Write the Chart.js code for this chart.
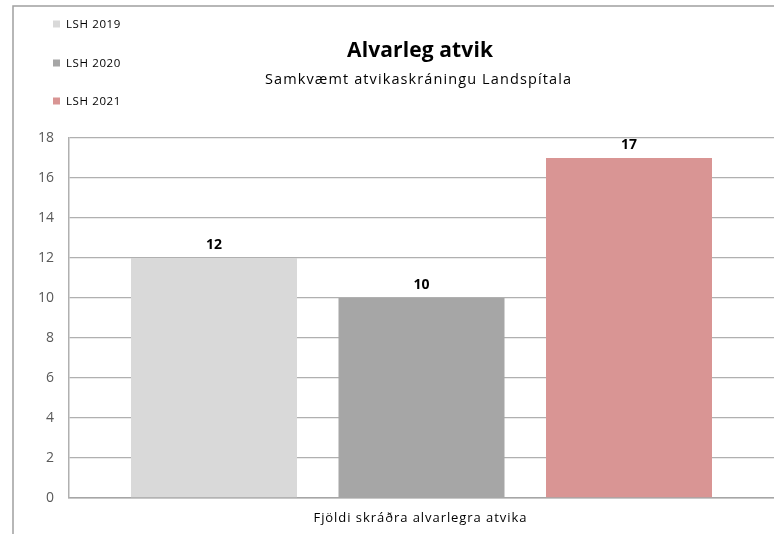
<!DOCTYPE html>
<html>
<head>
<meta charset="utf-8">
<script src="https://cdn.jsdelivr.net/npm/chart.js@4"></script>
<style>
html,body{margin:0;padding:0;background:#fff;}
#wrap{position:relative;width:774px;height:534px;}
canvas{display:block;}
</style>
</head>
<body>
<div id="wrap"><canvas id="c" width="774" height="534"></canvas></div>
<script>
const categories = ["Fjöldi skráðra alvarlegra atvika"];
const seriesLabels = ["LSH 2019", "LSH 2020", "LSH 2021"];
const seriesValues = [[12], [10], [17]];
const seriesColors = ["#d9d9d9", "#a6a6a6", "#d99594"];
const titleText = "Alvarleg atvik";
const subtitleText = "Samkvæmt atvikaskráningu Landspítala";
const yTicks = [0, 2, 4, 6, 8, 10, 12, 14, 16, 18];

const FONT = "'Open Sans', Lato, sans-serif";

function fitText(ctx, text, cx, cy, target, align) {
  ctx.letterSpacing = '0px';
  const w = ctx.measureText(text).width;
  const n = text.length;
  let sp = n > 1 ? (target - w) / n : 0;
  if (sp < -1) sp = -1;
  ctx.letterSpacing = sp + 'px';
  const tw = w + sp * n;
  ctx.textAlign = 'left';
  const x = align === 'left' ? cx : cx - tw / 2 + sp / 2;
  ctx.fillText(text, x, cy);
  ctx.letterSpacing = '0px';
}

const decor = {
  id: 'decor',
  beforeDraw(chart) {
    const ctx = chart.ctx;
    ctx.save();
    ctx.fillStyle = '#fff';
    ctx.fillRect(0, 0, chart.width, chart.height);
    ctx.strokeStyle = '#a0a0a0';
    ctx.lineWidth = 1.5;
    ctx.strokeRect(13, 6, 900, 700);
    ctx.restore();
  },
  afterDraw(chart) {
    const ctx = chart.ctx;
    ctx.save();
    ctx.fillStyle = '#000';
    ctx.textBaseline = 'middle';
    ctx.font = "bold 21px " + FONT;
    fitText(ctx, titleText, 420, 51, 146);
    ctx.font = "14.5px " + FONT;
    fitText(ctx, subtitleText, 418, 80, 307);
    ctx.font = "13px " + FONT;
    fitText(ctx, categories[0], 420, 518, 214);
    // legend
    const ys = [24, 63, 101];
    ctx.font = "11.5px " + FONT;
    chart.data.datasets.forEach((ds, i) => {
      ctx.fillStyle = ds.backgroundColor;
      ctx.fillRect(53, ys[i] - 3.5, 7, 7);
      ctx.fillStyle = '#000';
      fitText(ctx, ds.label, 66, ys[i] + 0.5, 55, 'left');
    });
    // data labels
    ctx.font = "bold 14px " + FONT;
    chart.data.datasets.forEach((ds, i) => {
      const meta = chart.getDatasetMeta(i);
      meta.data.forEach((bar, j) => {
        ctx.textAlign = 'center';
        ctx.fillText(String(ds.data[j]), bar.x, bar.y - 13);
      });
    });
    ctx.restore();
  }
};

new Chart(document.getElementById('c'), {
  type: 'bar',
  data: {
    labels: categories,
    datasets: seriesLabels.map((l, i) => ({
      label: l,
      data: seriesValues[i],
      backgroundColor: seriesColors[i],
      borderWidth: 0,
      categoryPercentage: 0.883,
      barPercentage: 0.8
    }))
  },
  options: {
    responsive: false,
    animation: false,
    devicePixelRatio: 1,
    layout: { padding: { top: 138, left: 0, right: 0, bottom: 0 } },
    plugins: { legend: { display: false }, tooltip: { enabled: false }, title: { display: false } },
    scales: {
      x: {
        ticks: { display: false },
        grid: { display: false, drawTicks: false },
        border: { display: true, color: '#a6a6a6', width: 1.5 },
        afterFit(s) { s.height = 36; }
      },
      y: {
        min: 0, max: 18,
        afterBuildTicks(s) { s.ticks = yTicks.map(v => ({ value: v })); },
        ticks: { color: '#595959', font: { family: FONT, size: 14 }, padding: 15 },
        grid: { color: '#b0b0b0', lineWidth: 1.3, drawTicks: false },
        border: { display: true, color: '#b0b0b0', width: 1.5 },
        afterFit(s) { s.width = 69; }
      }
    }
  },
  plugins: [decor]
});
</script>
</body>
</html>
